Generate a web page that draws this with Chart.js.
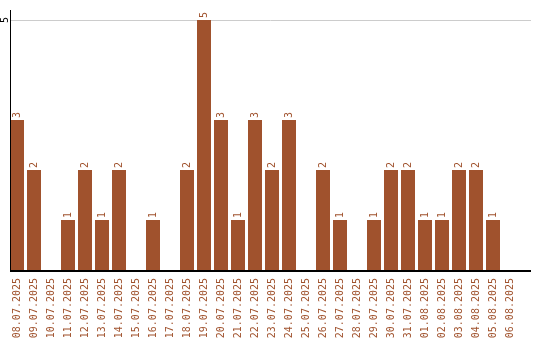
<!DOCTYPE html>
<html><head><meta charset="utf-8">
<script src="https://cdn.jsdelivr.net/npm/chart.js@4"></script>
<style>html,body{margin:0;padding:0;background:#fff}#w{width:540px;height:340px}</style>
</head><body><div id="w"><canvas id="c"></canvas></div>
<script>
const categories = ["08.07.2025","09.07.2025","10.07.2025","11.07.2025","12.07.2025","13.07.2025","14.07.2025","15.07.2025","16.07.2025","17.07.2025","18.07.2025","19.07.2025","20.07.2025","21.07.2025","22.07.2025","23.07.2025","24.07.2025","25.07.2025","26.07.2025","27.07.2025","28.07.2025","29.07.2025","30.07.2025","31.07.2025","01.08.2025","02.08.2025","03.08.2025","04.08.2025","05.08.2025","06.08.2025"];
const counts = [3,2,0,1,2,1,2,0,1,0,2,5,3,1,3,2,3,0,2,1,0,1,2,2,1,1,2,2,1,0];
const yTicks = [5];
const COLOR = '#A0522D';
const FONT = '"DejaVu Sans Mono", monospace';

const decoPlugin = {
  id: 'deco',
  beforeDatasetsDraw(chart) {
    const ctx = chart.ctx, ys = chart.scales.y;
    ctx.save();
    ctx.strokeStyle = '#cccccc';
    ctx.lineWidth = 1;
    yTicks.forEach(t => {
      const y = Math.round(ys.getPixelForValue(t)) + 0.5;
      ctx.beginPath(); ctx.moveTo(10, y); ctx.lineTo(531, y); ctx.stroke();
    });
    ctx.restore();
  },
  afterDatasetsDraw(chart) {
    const ctx = chart.ctx;
    const meta = chart.getDatasetMeta(0);
    const ys = chart.scales.y;
    const base = ys.getPixelForValue(0);
    ctx.save();
    // axes
    ctx.strokeStyle = '#000';
    ctx.lineWidth = 1;
    ctx.beginPath(); ctx.moveTo(10.5, chart.chartArea.top); ctx.lineTo(10.5, base); ctx.stroke();
    ctx.lineWidth = 2;
    ctx.beginPath(); ctx.moveTo(10, base + 1); ctx.lineTo(531, base + 1); ctx.stroke();
    // value labels
    ctx.fillStyle = COLOR;
    ctx.font = '10px ' + FONT;
    meta.data.forEach((bar, i) => {
      const v = counts[i];
      if (!v) return;
      ctx.save();
      ctx.translate(bar.x, bar.y - 2);
      ctx.rotate(-Math.PI / 2);
      ctx.textAlign = 'left';
      ctx.textBaseline = 'middle';
      ctx.fillText(String(v), 0, 0);
      ctx.restore();
    });
    // y tick labels
    yTicks.forEach(t => {
      ctx.save();
      ctx.translate(5, ys.getPixelForValue(t));
      ctx.rotate(-Math.PI / 2);
      ctx.textAlign = 'center';
      ctx.textBaseline = 'middle';
      ctx.fillStyle = '#000';
      ctx.fillText(String(t), 0, 0);
      ctx.restore();
    });
    ctx.restore();
  }
};

new Chart(document.getElementById('c'), {
  type: 'bar',
  data: { labels: categories, datasets: [{ data: counts, backgroundColor: COLOR, barPercentage: 14/17, categoryPercentage: 1 }] },
  options: {
    responsive: true, maintainAspectRatio: false, animation: false,
    layout: { padding: { top: 10, right: 21.5, left: 0, bottom: 0 } },
    plugins: { legend: { display: false }, tooltip: { enabled: false } },
    scales: {
      x: {
        grid: { display: false },
        border: { display: false },
        ticks: { color: COLOR, font: { family: FONT, size: 10 }, minRotation: 90, maxRotation: 90, autoSkip: false, padding: 0 },
        afterFit(s) { s.height = 70; }
      },
      y: {
        min: 0, max: 5.2,
        afterBuildTicks(s) { s.ticks = yTicks.map(v => ({ value: v })); },
        ticks: { display: false },
        grid: { display: false, drawTicks: false },
        border: { display: false },
        afterFit(s) { s.width = 8.5; }
      }
    }
  },
  plugins: [decoPlugin]
});
</script></body></html>
